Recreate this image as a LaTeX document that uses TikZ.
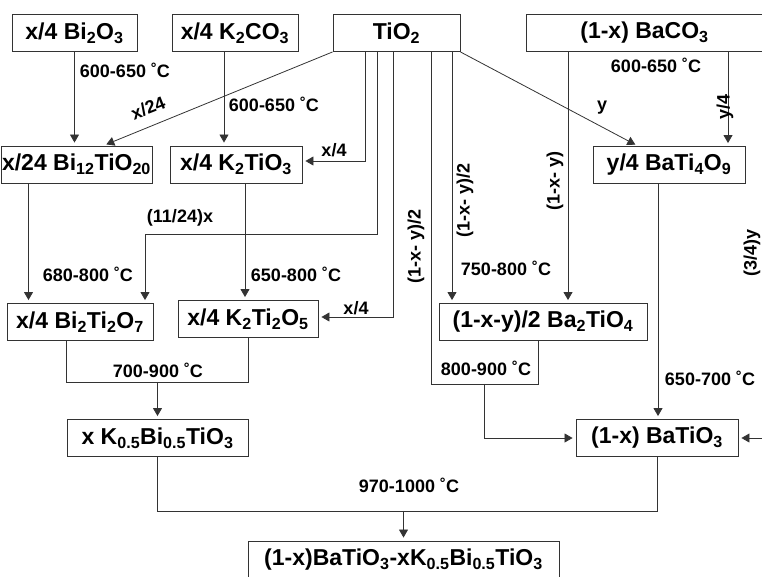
\documentclass[tikz,border=0pt]{standalone}
\usepackage{fontspec}
\setmainfont{Liberation Sans}
\usetikzlibrary{arrows.meta}

\tikzset{
  box/.style={draw=black!80, line width=0.9pt, minimum height=37pt, inner sep=0pt,
    font=\fontsize{23}{26}\selectfont\bfseries},
  lbl/.style={inner sep=0pt, font=\fontsize{18}{20}\selectfont\bfseries},
  conn/.style={draw=black!80, line width=0.8pt},
  arr/.style={conn, -{Triangle[length=8pt,width=9pt]}, shorten >=3pt},
}

\begin{document}
\begin{tikzpicture}[x=1pt, y=-1pt]
\useasboundingbox (0,0) rectangle (762,576);

\node[box, minimum width=125pt] (bi2o3) at (74.5,33) {x/4 Bi\textsubscript{2}O\textsubscript{3}};
\node[box, minimum width=126pt] (k2co3) at (235,33) {x/4 K\textsubscript{2}CO\textsubscript{3}};
\node[box, minimum width=127pt] (tio2) at (396.5,33) {TiO\textsubscript{2}};
\node[box, minimum width=237pt] (baco3) at (644.5,33) {(1-x) BaCO\textsubscript{3}};

\node[box, minimum width=151pt] (bi12) at (76.5,164.5) {x/24 Bi\textsubscript{12}TiO\textsubscript{20}};
\node[box, minimum width=132pt] (k2tio3) at (236,164.5) {x/4 K\textsubscript{2}TiO\textsubscript{3}};
\node[box, minimum width=152pt] (bati4o9) at (669,165) {y/4 BaTi\textsubscript{4}O\textsubscript{9}};

\node[box, minimum width=146pt] (bi2ti2o7) at (80,322) {x/4 Bi\textsubscript{2}Ti\textsubscript{2}O\textsubscript{7}};
\node[box, minimum width=140pt] (k2ti2o5) at (248,319) {x/4 K\textsubscript{2}Ti\textsubscript{2}O\textsubscript{5}};
\node[box, minimum width=208pt] (ba2tio4) at (543,322) {(1-x-y)/2 Ba\textsubscript{2}TiO\textsubscript{4}};

\node[box, minimum width=181pt] (kbt) at (157.5,438) {x K\textsubscript{0.5}Bi\textsubscript{0.5}TiO\textsubscript{3}};
\node[box, minimum width=162pt] (batio3) at (657,438) {(1-x) BaTiO\textsubscript{3}};
\node[box, minimum width=311pt, minimum height=38pt] (final) at (403.5,560) {(1-x)BaTiO\textsubscript{3}-xK\textsubscript{0.5}Bi\textsubscript{0.5}TiO\textsubscript{3}};

\coordinate (rin) at (770,438);

% first calcination
\draw[arr] (bi2o3.south) -- (bi2o3.south |- bi12.north);
\draw[arr] ([xshift=-11pt]k2co3.south) -- ([xshift=-11pt]k2co3.south |- k2tio3.north);
\draw[arr] (tio2.south west) -- ([xshift=27pt]bi12.north);
\draw[arr] ([xshift=-31.5pt]tio2.south) |- ([yshift=3.5pt]k2tio3.east);
\draw[arr] ([xshift=-19.5pt]tio2.south) -- ++(0,182) -| ([xshift=65pt]bi2ti2o7.north);
\draw[arr] ([xshift=-3.5pt]tio2.south) |- ([yshift=2pt]k2ti2o5.east);
\draw[conn] ([xshift=34.5pt]tio2.south) -- ++(0,332) coordinate (j2) -- ++(53,0) coordinate (m2) -| ([xshift=-5pt]ba2tio4.south);
\draw[arr] (m2) |- (batio3.west);
\draw[arr] ([xshift=55.5pt]tio2.south) -- ([xshift=55.5pt]tio2.south |- ba2tio4.north);
\draw[arr] (tio2.south east) -- ([xshift=-31pt]bati4o9.north);
\draw[arr] ([xshift=-76.5pt]baco3.south) -- ([xshift=-76.5pt]baco3.south |- ba2tio4.north);
\draw[arr] ([xshift=83.5pt]baco3.south) -- ([xshift=83.5pt]baco3.south |- bati4o9.north);

% second calcination
\draw[arr] ([xshift=-48pt]bi12.south) -- ([xshift=-48pt]bi12.south |- bi2ti2o7.north);
\draw[arr] ([xshift=9pt]k2tio3.south) -- ([xshift=9pt]k2tio3.south |- k2ti2o5.north);
\draw[arr] ([xshift=-11pt]bati4o9.south) -- ([xshift=-11pt]bati4o9.south |- batio3.north);
\draw[arr] (rin) -- (batio3.east);
\draw[conn] ([xshift=-14pt]bi2ti2o7.south) -- ++(0,41) coordinate (j1) -| (k2ti2o5.south);
\draw[arr] (j1 -| kbt.north) -- (kbt.north);
\draw[conn] (kbt.south) -- ++(0,54) coordinate (j3) -| (batio3.south);
\draw[arr] (j3 -| final.north) -- (final.north);

% labels
\node[lbl] (t1) at (125,70) {600-650 ˚C};
\node[lbl] (t2) at (274,104) {600-650 ˚C};
\node[lbl, rotate=21.6] (t3) at (148,108) {x/24};
\node[lbl] (t4) at (334,150) {x/4};
\node[lbl] (t5) at (180,218) {(11/24)x};
\node[lbl] (t6) at (356,308) {x/4};
\node[lbl] (t7) at (88,274) {680-800 ˚C};
\node[lbl] (t8) at (296,274) {650-800 ˚C};
\node[lbl] (t9) at (158,370) {700-900 ˚C};
\node[lbl, rotate=90] (t10) at (416,246) {(1-x- y)/2};
\node[lbl, rotate=90] (t11) at (465,200) {(1-x- y)/2};
\node[lbl] (t12) at (506,268) {750-800 ˚C};
\node[lbl, rotate=90] (t13) at (555,181) {(1-x- y)};
\node[lbl] (t14) at (602,108) {y};
\node[lbl] (t15) at (656,65) {600-650 ˚C};
\node[lbl, rotate=90] (t16) at (725,107) {y/4};
\node[lbl, rotate=90] (t17) at (752,253) {(3/4)y};
\node[lbl] (t18) at (486,368) {800-900 ˚C};
\node[lbl] (t19) at (710,378) {650-700 ˚C};
\node[lbl] (t20) at (409,485) {970-1000 ˚C};
\end{tikzpicture}
\end{document}
